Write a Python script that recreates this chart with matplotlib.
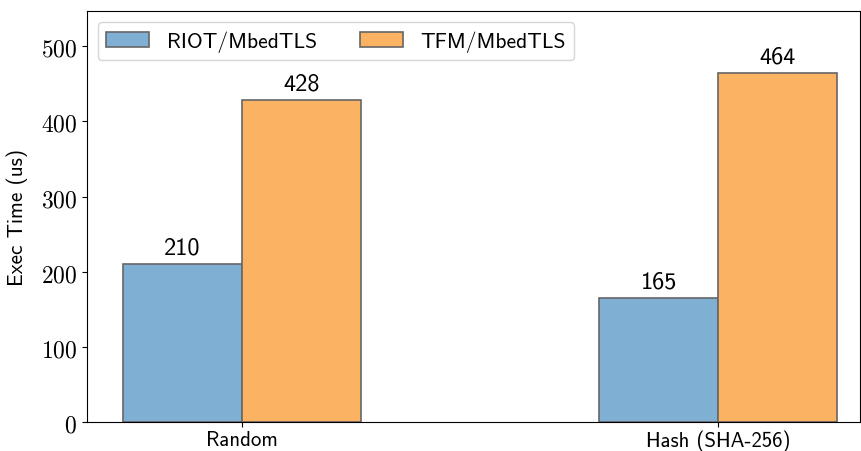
import numpy as np
import matplotlib
matplotlib.use('Agg')
import matplotlib.pyplot as plt

plt.rcParams['mathtext.fontset'] = 'cm'

categories = ['Random', 'Hash (SHA-256)']
series = ['RIOT/MbedTLS', 'TFM/MbedTLS']
riot = [210, 165]
tfm = [428, 464]

COLORS = ['#7fb0d3', '#fbb262']
SANS = 'cmss10'

x = np.arange(len(categories))
w = 0.25

fig = plt.figure(figsize=(8.61, 4.52), dpi=100)
ax = fig.add_axes([87 / 861, (452 - 423) / 452, (860 - 87) / 861, (423 - 12) / 452])

b1 = ax.bar(x - w / 2, riot, w, color=COLORS[0], edgecolor='#666666', linewidth=1.2, label=series[0])
b2 = ax.bar(x + w / 2, tfm, w, color=COLORS[1], edgecolor='#666666', linewidth=1.2, label=series[1])

for bars in (b1, b2):
    for rect in bars:
        h = rect.get_height()
        ax.annotate(f'{h:.0f}', (rect.get_x() + rect.get_width() / 2, h),
                    xytext=(0, 4), textcoords='offset points',
                    ha='center', va='bottom', fontsize=17.5, family=SANS)

ax.set_xlim(-0.326, 1.298)
ax.set_ylim(0, 547)
ax.set_xticks(x)
ax.set_xticklabels(categories, family=SANS, fontsize=15)
ax.tick_params(axis='x', pad=2)
ax.set_yticks([0, 100, 200, 300, 400, 500])
ax.set_yticklabels([f'${v}$' for v in [0, 100, 200, 300, 400, 500]], fontsize=17)
ax.set_ylabel('Exec Time (us)', family=SANS, fontsize=15.3, labelpad=9)
ax.legend(ncol=2, loc='upper left', prop={'family': SANS, 'size': 15.5})

plt.savefig('out.png', dpi=100)
